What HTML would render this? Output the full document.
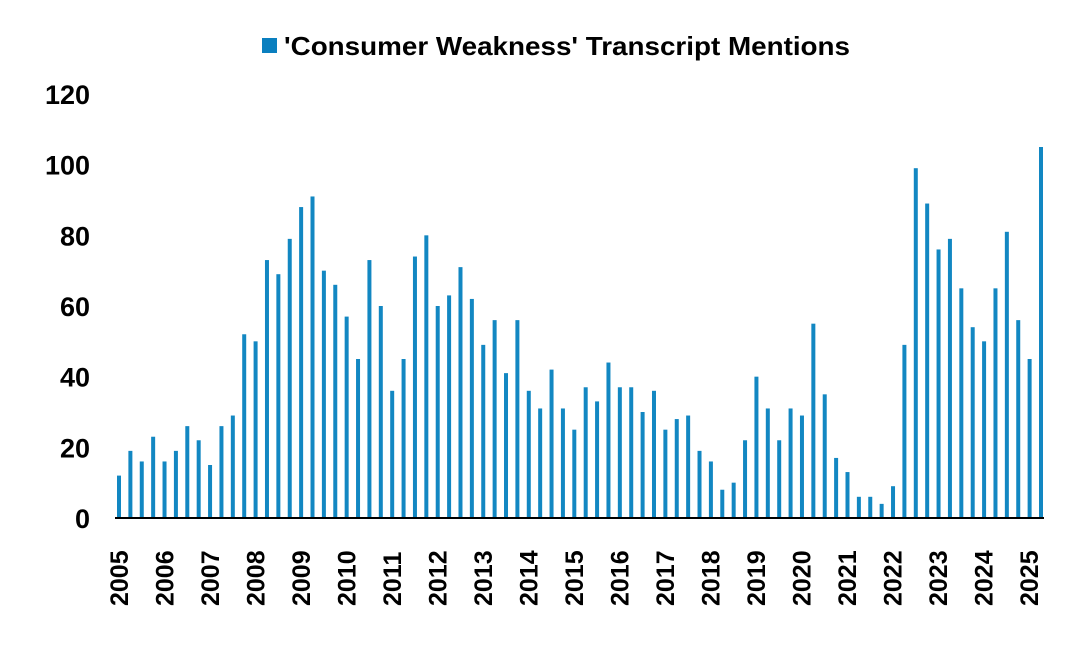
<!DOCTYPE html>
<html><head><meta charset="utf-8"><style>
body{margin:0;background:#fff;}
svg{display:block;font-family:"Liberation Sans",Arial,sans-serif;font-weight:bold;}
</style></head><body>
<svg width="1080" height="662">
<g>
<rect x="262" y="38" width="15" height="15" fill="#0a7fbf"/>
<text x="284" y="55" font-size="26" textLength="566" lengthAdjust="spacingAndGlyphs" fill="#000">'Consumer Weakness' Transcript Mentions</text>
</g>
<g id="yaxis"></g>
<g id="bars"></g>
<line x1="115" y1="518" x2="1044" y2="518" stroke="#000" stroke-width="2"/>
<g id="xaxis"></g>
</svg>
<script>
const values=[12,19,16,23,16,19,26,22,15,26,29,52,50,73,69,79,88,91,70,66,57,45,73,60,36,45,74,80,60,63,71,62,49,56,41,56,36,31,42,31,25,37,33,44,37,37,30,36,25,28,29,19,16,8,10,22,40,31,22,31,29,55,35,17,13,6,6,4,9,49,99,89,76,79,65,54,50,65,81,56,45,105];
const yTicks=[0,20,40,60,80,100,120];
const years=[2005,2006,2007,2008,2009,2010,2011,2012,2013,2014,2015,2016,2017,2018,2019,2020,2021,2022,2023,2024,2025];
const NS="http://www.w3.org/2000/svg";
const y0=518,yTop=94,ymax=120;
function yS(v){return y0-(v/ymax)*(y0-yTop);}
const x0=119,x1=1041;
function xS(i){return x0+i*(x1-x0)/(values.length-1);}
function xYear(i){return 119+i*45.5;}
const bars=document.getElementById('bars');
values.forEach((v,i)=>{
 const r=document.createElementNS(NS,'rect');
 r.setAttribute('x',xS(i)-2);r.setAttribute('width',4);
 r.setAttribute('y',yS(v));r.setAttribute('height',y0-yS(v));
 r.setAttribute('fill','#1287c2');
 
 
 bars.appendChild(r);
});
const ya=document.getElementById('yaxis');
yTicks.forEach(t=>{
 const tx=document.createElementNS(NS,'text');
 tx.setAttribute('x',90);tx.setAttribute('y',yS(t)+10);
 tx.setAttribute('text-anchor','end');tx.setAttribute('font-size','27');
 tx.textContent=t;
 
 
 ya.appendChild(tx);
});
const xa=document.getElementById('xaxis');
years.forEach((yr,i)=>{
 const tx=document.createElementNS(NS,'text');
 const x=xYear(i)+9;
 tx.setAttribute('transform','translate('+x+',606) rotate(-90)');
 tx.setAttribute('font-size','25');
 tx.textContent=yr;
 
 
 xa.appendChild(tx);
});
</script>
</body></html>
